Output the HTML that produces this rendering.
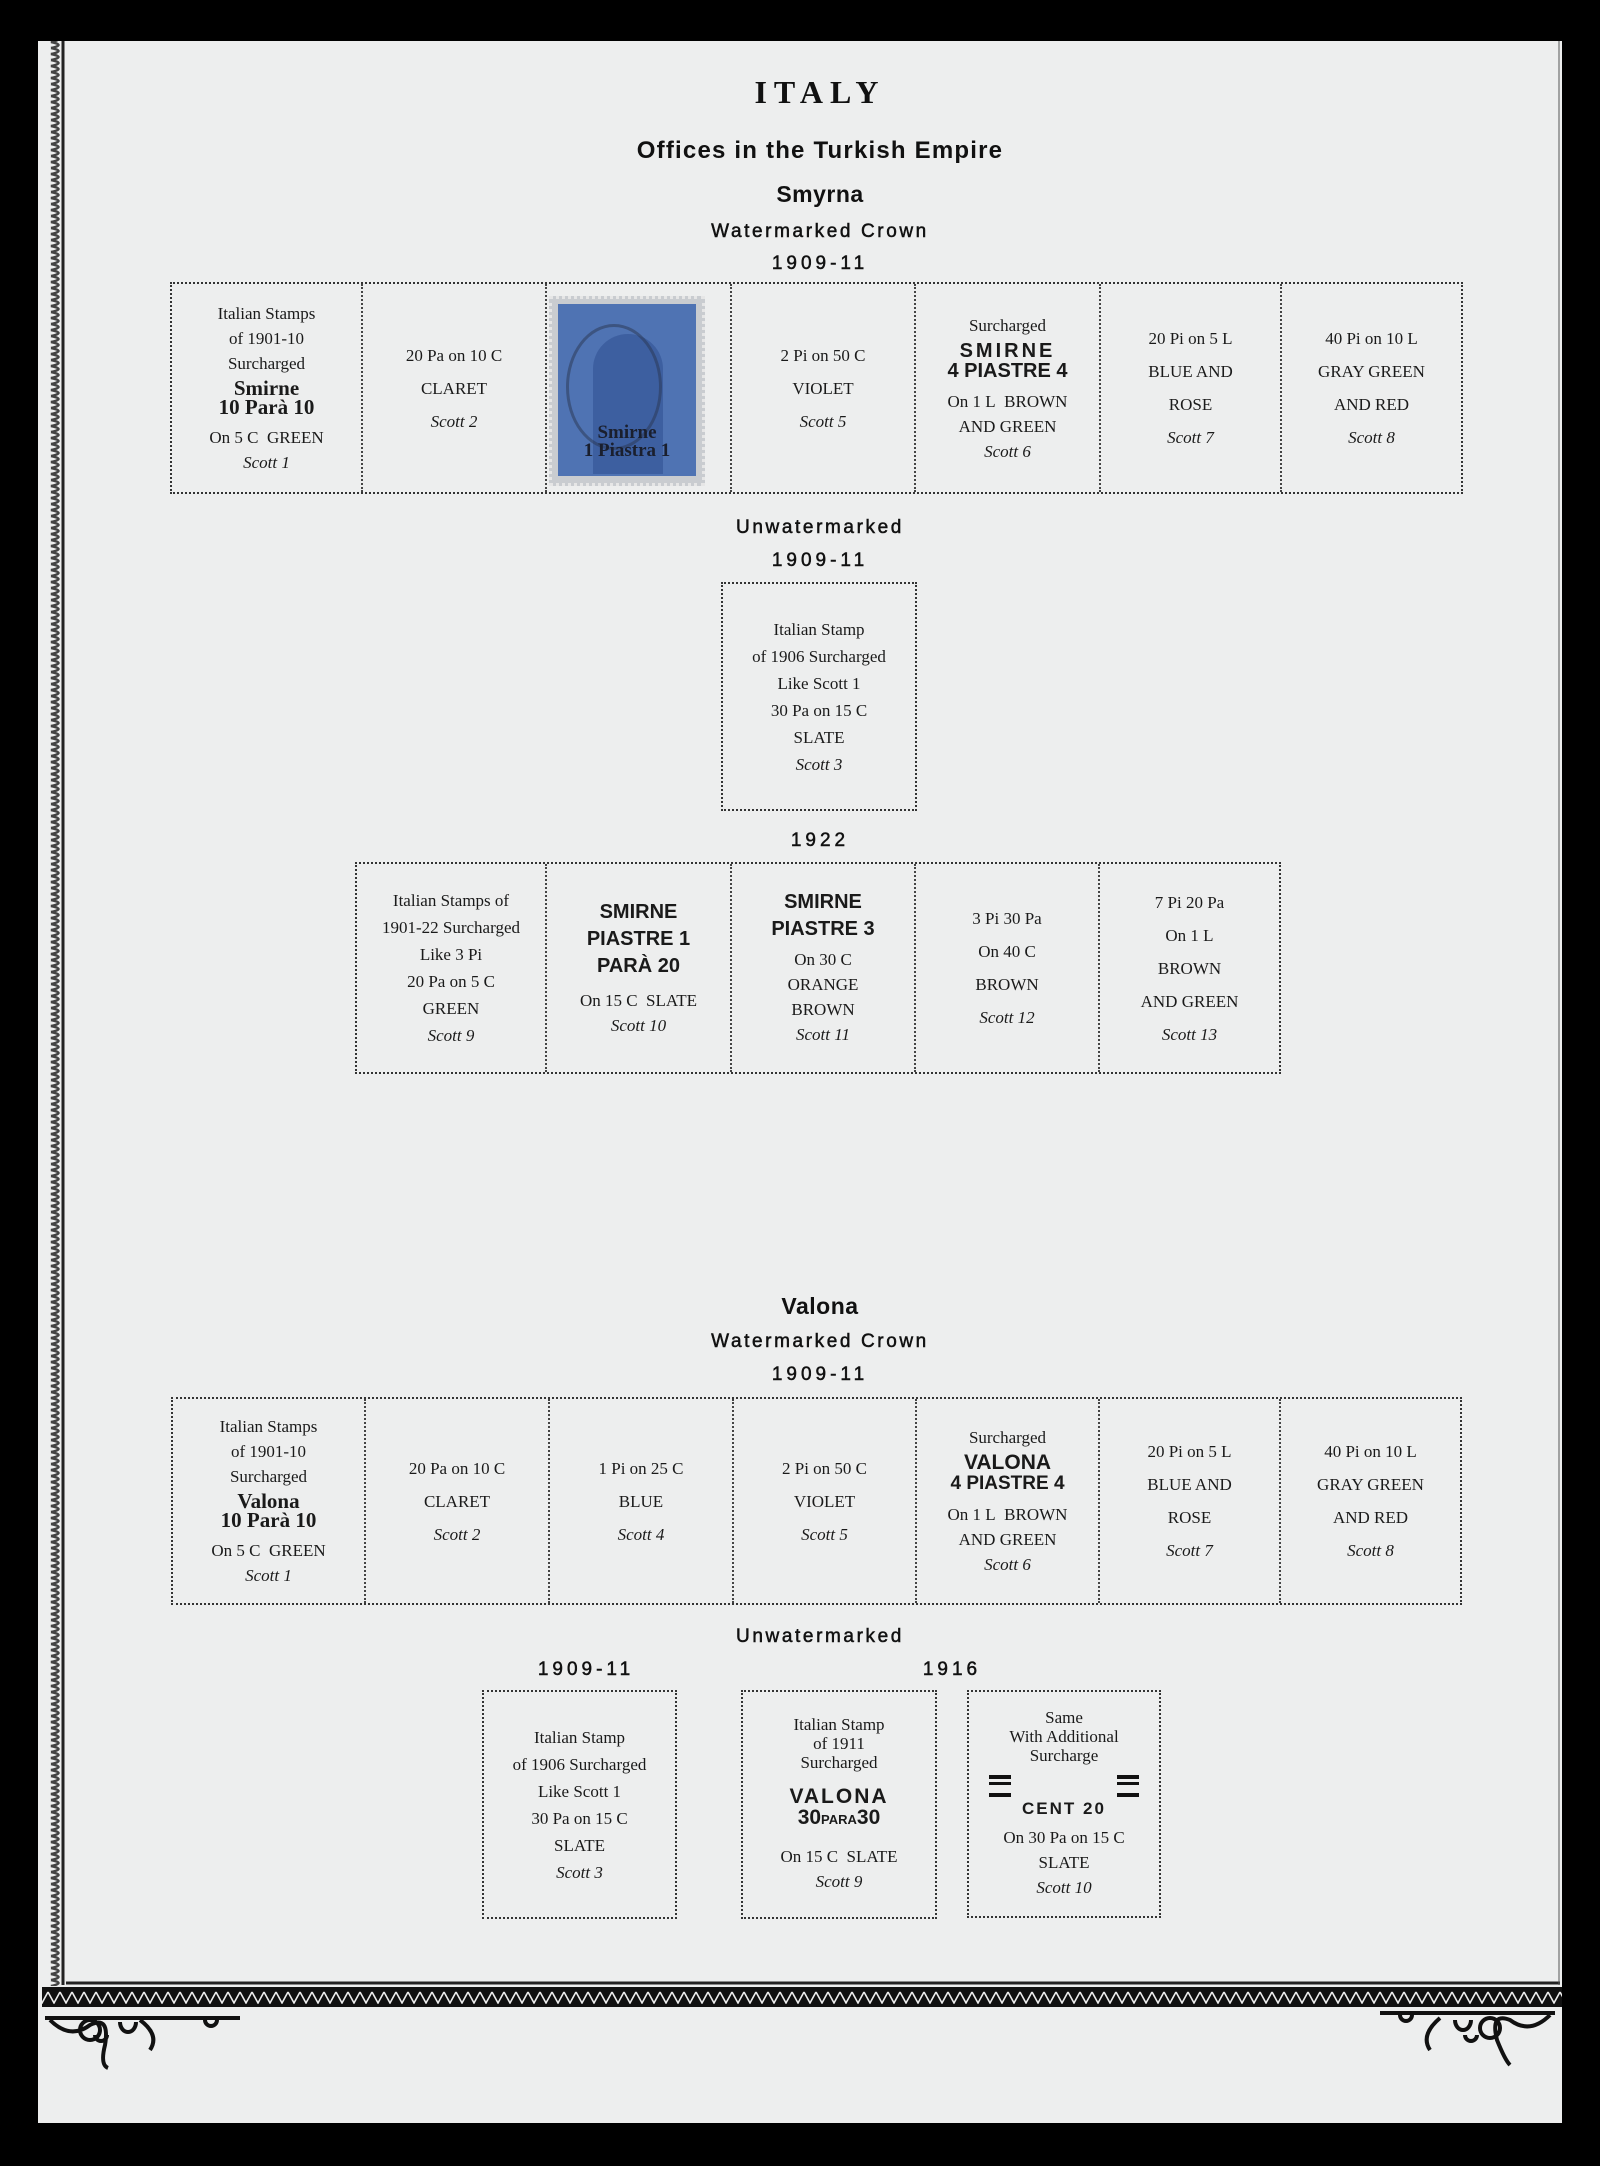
<!DOCTYPE html>
<html><head><meta charset="utf-8">
<style>
html,body{margin:0;padding:0;}
body{width:1600px;height:2166px;background:#000;position:relative;overflow:hidden;font-family:"Liberation Serif",serif;color:#1a1a1a;}
#page{position:absolute;left:38px;top:41px;width:1524px;height:2082px;background:#edeeee;}
.a{position:absolute;}
.h{position:absolute;left:20px;width:1600px;text-align:center;font-family:"Liberation Sans",sans-serif;font-weight:bold;color:#111;}
.w{font-size:19px;letter-spacing:2.6px;font-weight:normal;-webkit-text-stroke:0.5px #111;}
.y{font-size:19px;letter-spacing:4px;font-weight:normal;-webkit-text-stroke:0.5px #111;}
.box{position:absolute;border:2px dotted #333;box-sizing:border-box;}
.c{position:absolute;top:0;bottom:0;display:flex;flex-direction:column;justify-content:center;align-items:center;text-align:center;font-size:17px;line-height:25px;border-left:2px dotted #444;box-sizing:border-box;}
.c.f{border-left:none;}
.sp{line-height:33px;}
i{font-style:italic;}
.sb{font-family:"Liberation Serif",serif;font-weight:bold;font-size:21px;line-height:19px;margin:3px 0 8px;}
.sa{font-family:"Liberation Sans",sans-serif;font-weight:bold;font-size:20px;line-height:20px;margin:3px 0 8px;}
</style></head><body>
<div id="page"></div>
<svg class="a" style="left:0;top:0" width="1600" height="2166">
<defs>
<pattern id="zz" x="0" y="0" width="24" height="12" patternUnits="userSpaceOnUse"><path d="M3 0 Q18 3 3 6 Q18 9 3 12" fill="none" stroke="#444" stroke-width="2.5"/></pattern>
<pattern id="hz" x="0" y="1988" width="12" height="18" patternUnits="userSpaceOnUse"><path d="M0 4 L6 15 L12 4" fill="none" stroke="#eee" stroke-width="1.6"/></pattern>
</defs>
<rect x="40" y="41" width="20" height="1945" fill="url(#zz)"/>
<line x1="63" y1="41" x2="63" y2="1985" stroke="#222" stroke-width="3"/>
<line x1="66" y1="1983" x2="1560" y2="1983" stroke="#222" stroke-width="3"/>
<line x1="1559" y1="41" x2="1559" y2="1985" stroke="#555" stroke-width="1"/>
<rect x="42" y="1987" width="1520" height="20" fill="#111"/>
<rect x="42" y="1989" width="1520" height="15" fill="url(#hz)"/>
<g fill="none" stroke="#111" stroke-width="4">
<path d="M45 2018 L240 2018 M50 2020 Q70 2040 90 2025 Q110 2015 105 2045 Q100 2065 108 2068 M80 2030 a10 10 0 1 0 20 0 a10 10 0 1 0 -20 0 M120 2022 a8 10 0 1 0 16 0 M140 2020 Q160 2035 150 2050 M205 2020 a6 6 0 1 0 12 0 M95 2035 a6 6 0 1 0 12 0"/>
<path d="M1555 2013 L1380 2013 M1550 2015 Q1530 2035 1510 2020 Q1490 2012 1497 2040 Q1505 2060 1510 2065 M1480 2028 a10 10 0 1 0 20 0 a10 10 0 1 0 -20 0 M1455 2020 a8 10 0 1 0 16 0 M1440 2018 Q1420 2035 1430 2050 M1400 2015 a6 6 0 1 0 12 0 M1465 2035 a6 6 0 1 0 12 0"/>
</g>
</svg>

<div class="h" style="top:74px;font-family:'Liberation Serif',serif;font-size:32px;letter-spacing:7px;">ITALY</div>
<div class="h" style="top:137px;font-size:24px;letter-spacing:1.2px;">Offices in the Turkish Empire</div>
<div class="h" style="top:181px;font-size:23px;letter-spacing:0.5px;">Smyrna</div>
<div class="h w" style="top:221px;">Watermarked Crown</div>
<div class="h y" style="top:253px;">1909-11</div>

<!-- Row 1 -->
<div class="box" style="left:170px;top:282px;width:1293px;height:212px;">
 <div class="c f" style="left:0;width:189px;"><div>Italian Stamps</div><div>of 1901-10</div><div>Surcharged</div><div class="sb">Smirne<br>10 Parà 10</div><div>On 5 C&nbsp; GREEN</div><div><i>Scott 1</i></div></div>
 <div class="c sp" style="left:189px;width:184px;"><div>20 Pa on 10 C</div><div>CLARET</div><div><i>Scott 2</i></div></div>
 <div class="c" style="left:373px;width:185px;"></div>
 <div class="c sp" style="left:558px;width:184px;"><div>2 Pi on 50 C</div><div>VIOLET</div><div><i>Scott 5</i></div></div>
 <div class="c" style="left:742px;width:185px;"><div>Surcharged</div><div class="sa" style="letter-spacing:3px">SMIRNE<br><span style="letter-spacing:0">4 PIASTRE 4</span></div><div>On 1 L&nbsp; BROWN</div><div>AND GREEN</div><div><i>Scott 6</i></div></div>
 <div class="c sp" style="left:927px;width:181px;"><div>20 Pi on 5 L</div><div>BLUE AND</div><div>ROSE</div><div><i>Scott 7</i></div></div>
 <div class="c sp" style="left:1108px;width:181px;"><div>40 Pi on 10 L</div><div>GRAY GREEN</div><div>AND RED</div><div><i>Scott 8</i></div></div>
</div>
<!-- stamp -->
<div class="a" style="left:549px;top:296px;width:156px;height:190px;background:#c9ccd0;border:3px dotted #e6e6e6;box-sizing:border-box;"></div>
<div class="a" style="left:558px;top:304px;width:138px;height:172px;background:#4f73b3;overflow:hidden;">
 <div class="a" style="left:35px;top:30px;width:70px;height:140px;border-radius:35px 35px 0 0;background:#3d5fa0;"></div>
 <div class="a" style="left:8px;top:20px;width:90px;height:120px;border:3px solid #2a3550;border-radius:50%;opacity:.5;"></div>
 <div class="a" style="left:0;top:120px;width:138px;text-align:center;font-weight:bold;font-size:19px;line-height:18px;color:#1a1f2e;">Smirne<br>1 Piastra 1</div>
</div>

<div class="h w" style="top:517px;">Unwatermarked</div>
<div class="h y" style="top:550px;">1909-11</div>
<div class="box" style="left:721px;top:582px;width:196px;height:229px;">
 <div class="c f" style="left:0;width:192px;line-height:27px;"><div>Italian Stamp</div><div>of 1906 Surcharged</div><div>Like Scott 1</div><div>30 Pa on 15 C</div><div>SLATE</div><div><i>Scott 3</i></div></div>
</div>

<div class="h y" style="top:830px;">1922</div>
<div class="box" style="left:355px;top:862px;width:926px;height:212px;">
 <div class="c f" style="left:0;width:188px;line-height:27px;"><div>Italian Stamps of</div><div>1901-22 Surcharged</div><div>Like 3 Pi</div><div>20 Pa on 5 C</div><div>GREEN</div><div><i>Scott 9</i></div></div>
 <div class="c" style="left:188px;width:185px;"><div class="sa" style="line-height:27px;margin:0 0 8px">SMIRNE<br>PIASTRE 1<br>PARÀ 20</div><div>On 15 C&nbsp; SLATE</div><div><i>Scott 10</i></div></div>
 <div class="c" style="left:373px;width:184px;"><div class="sa" style="line-height:27px;margin:0 0 4px">SMIRNE<br>PIASTRE 3</div><div>On 30 C</div><div>ORANGE</div><div>BROWN</div><div><i>Scott 11</i></div></div>
 <div class="c sp" style="left:557px;width:184px;"><div>3 Pi 30 Pa</div><div>On 40 C</div><div>BROWN</div><div><i>Scott 12</i></div></div>
 <div class="c sp" style="left:741px;width:181px;"><div>7 Pi 20 Pa</div><div>On 1 L</div><div>BROWN</div><div>AND GREEN</div><div><i>Scott 13</i></div></div>
</div>

<div class="h" style="top:1293px;font-size:23px;letter-spacing:0.5px;">Valona</div>
<div class="h w" style="top:1331px;">Watermarked Crown</div>
<div class="h y" style="top:1364px;">1909-11</div>
<div class="box" style="left:171px;top:1397px;width:1291px;height:208px;">
 <div class="c f" style="left:0;width:191px;"><div>Italian Stamps</div><div>of 1901-10</div><div>Surcharged</div><div class="sb">Valona<br>10 Parà 10</div><div>On 5 C&nbsp; GREEN</div><div><i>Scott 1</i></div></div>
 <div class="c sp" style="left:191px;width:184px;"><div>20 Pa on 10 C</div><div>CLARET</div><div><i>Scott 2</i></div></div>
 <div class="c sp" style="left:375px;width:184px;"><div>1 Pi on 25 C</div><div>BLUE</div><div><i>Scott 4</i></div></div>
 <div class="c sp" style="left:559px;width:183px;"><div>2 Pi on 50 C</div><div>VIOLET</div><div><i>Scott 5</i></div></div>
 <div class="c" style="left:742px;width:183px;"><div>Surcharged</div><div class="sa" style="font-size:21px;">VALONA<br><span style="font-size:19px">4 PIASTRE 4</span></div><div>On 1 L&nbsp; BROWN</div><div>AND GREEN</div><div><i>Scott 6</i></div></div>
 <div class="c sp" style="left:925px;width:181px;"><div>20 Pi on 5 L</div><div>BLUE AND</div><div>ROSE</div><div><i>Scott 7</i></div></div>
 <div class="c sp" style="left:1106px;width:181px;"><div>40 Pi on 10 L</div><div>GRAY GREEN</div><div>AND RED</div><div><i>Scott 8</i></div></div>
</div>

<div class="h w" style="top:1626px;">Unwatermarked</div>
<div class="h y" style="top:1659px;left:-214px;">1909-11</div>
<div class="h y" style="top:1659px;left:152px;">1916</div>
<div class="box" style="left:482px;top:1690px;width:195px;height:229px;">
 <div class="c f" style="left:0;width:191px;line-height:27px;"><div>Italian Stamp</div><div>of 1906 Surcharged</div><div>Like Scott 1</div><div>30 Pa on 15 C</div><div>SLATE</div><div><i>Scott 3</i></div></div>
</div>
<div class="box" style="left:741px;top:1690px;width:196px;height:229px;">
 <div class="c f" style="left:0;width:192px;line-height:19px;"><div>Italian Stamp</div><div>of 1911</div><div>Surcharged</div><div class="sa" style="font-size:21px;line-height:21px;margin:14px 0 14px;letter-spacing:2px">VALONA<br><span style="letter-spacing:0">30<span style="font-size:13px">PARA</span>30</span></div><div style="line-height:25px">On 15 C&nbsp; SLATE</div><div style="line-height:25px"><i>Scott 9</i></div></div>
</div>
<div class="box" style="left:967px;top:1690px;width:194px;height:228px;">
 <div class="c f" style="left:0;width:190px;line-height:19px;"><div>Same</div><div>With Additional</div><div>Surcharge</div>
 <div style="width:150px;display:flex;justify-content:space-between;margin-top:10px"><span style="display:block;width:22px;height:14px;border-top:4px solid #111;border-bottom:4px solid #111;position:relative"><span style="position:absolute;left:0;right:0;top:3px;border-top:3px solid #111"></span></span><span style="display:block;width:22px;height:14px;border-top:4px solid #111;border-bottom:4px solid #111;position:relative"><span style="position:absolute;left:0;right:0;top:3px;border-top:3px solid #111"></span></span></div>
 <div class="sa" style="font-size:17px;letter-spacing:2px;margin:2px 0 6px">CENT 20</div><div style="line-height:25px">On 30 Pa on 15 C</div><div style="line-height:25px">SLATE</div><div style="line-height:25px"><i>Scott 10</i></div></div>
</div>
</body></html>
